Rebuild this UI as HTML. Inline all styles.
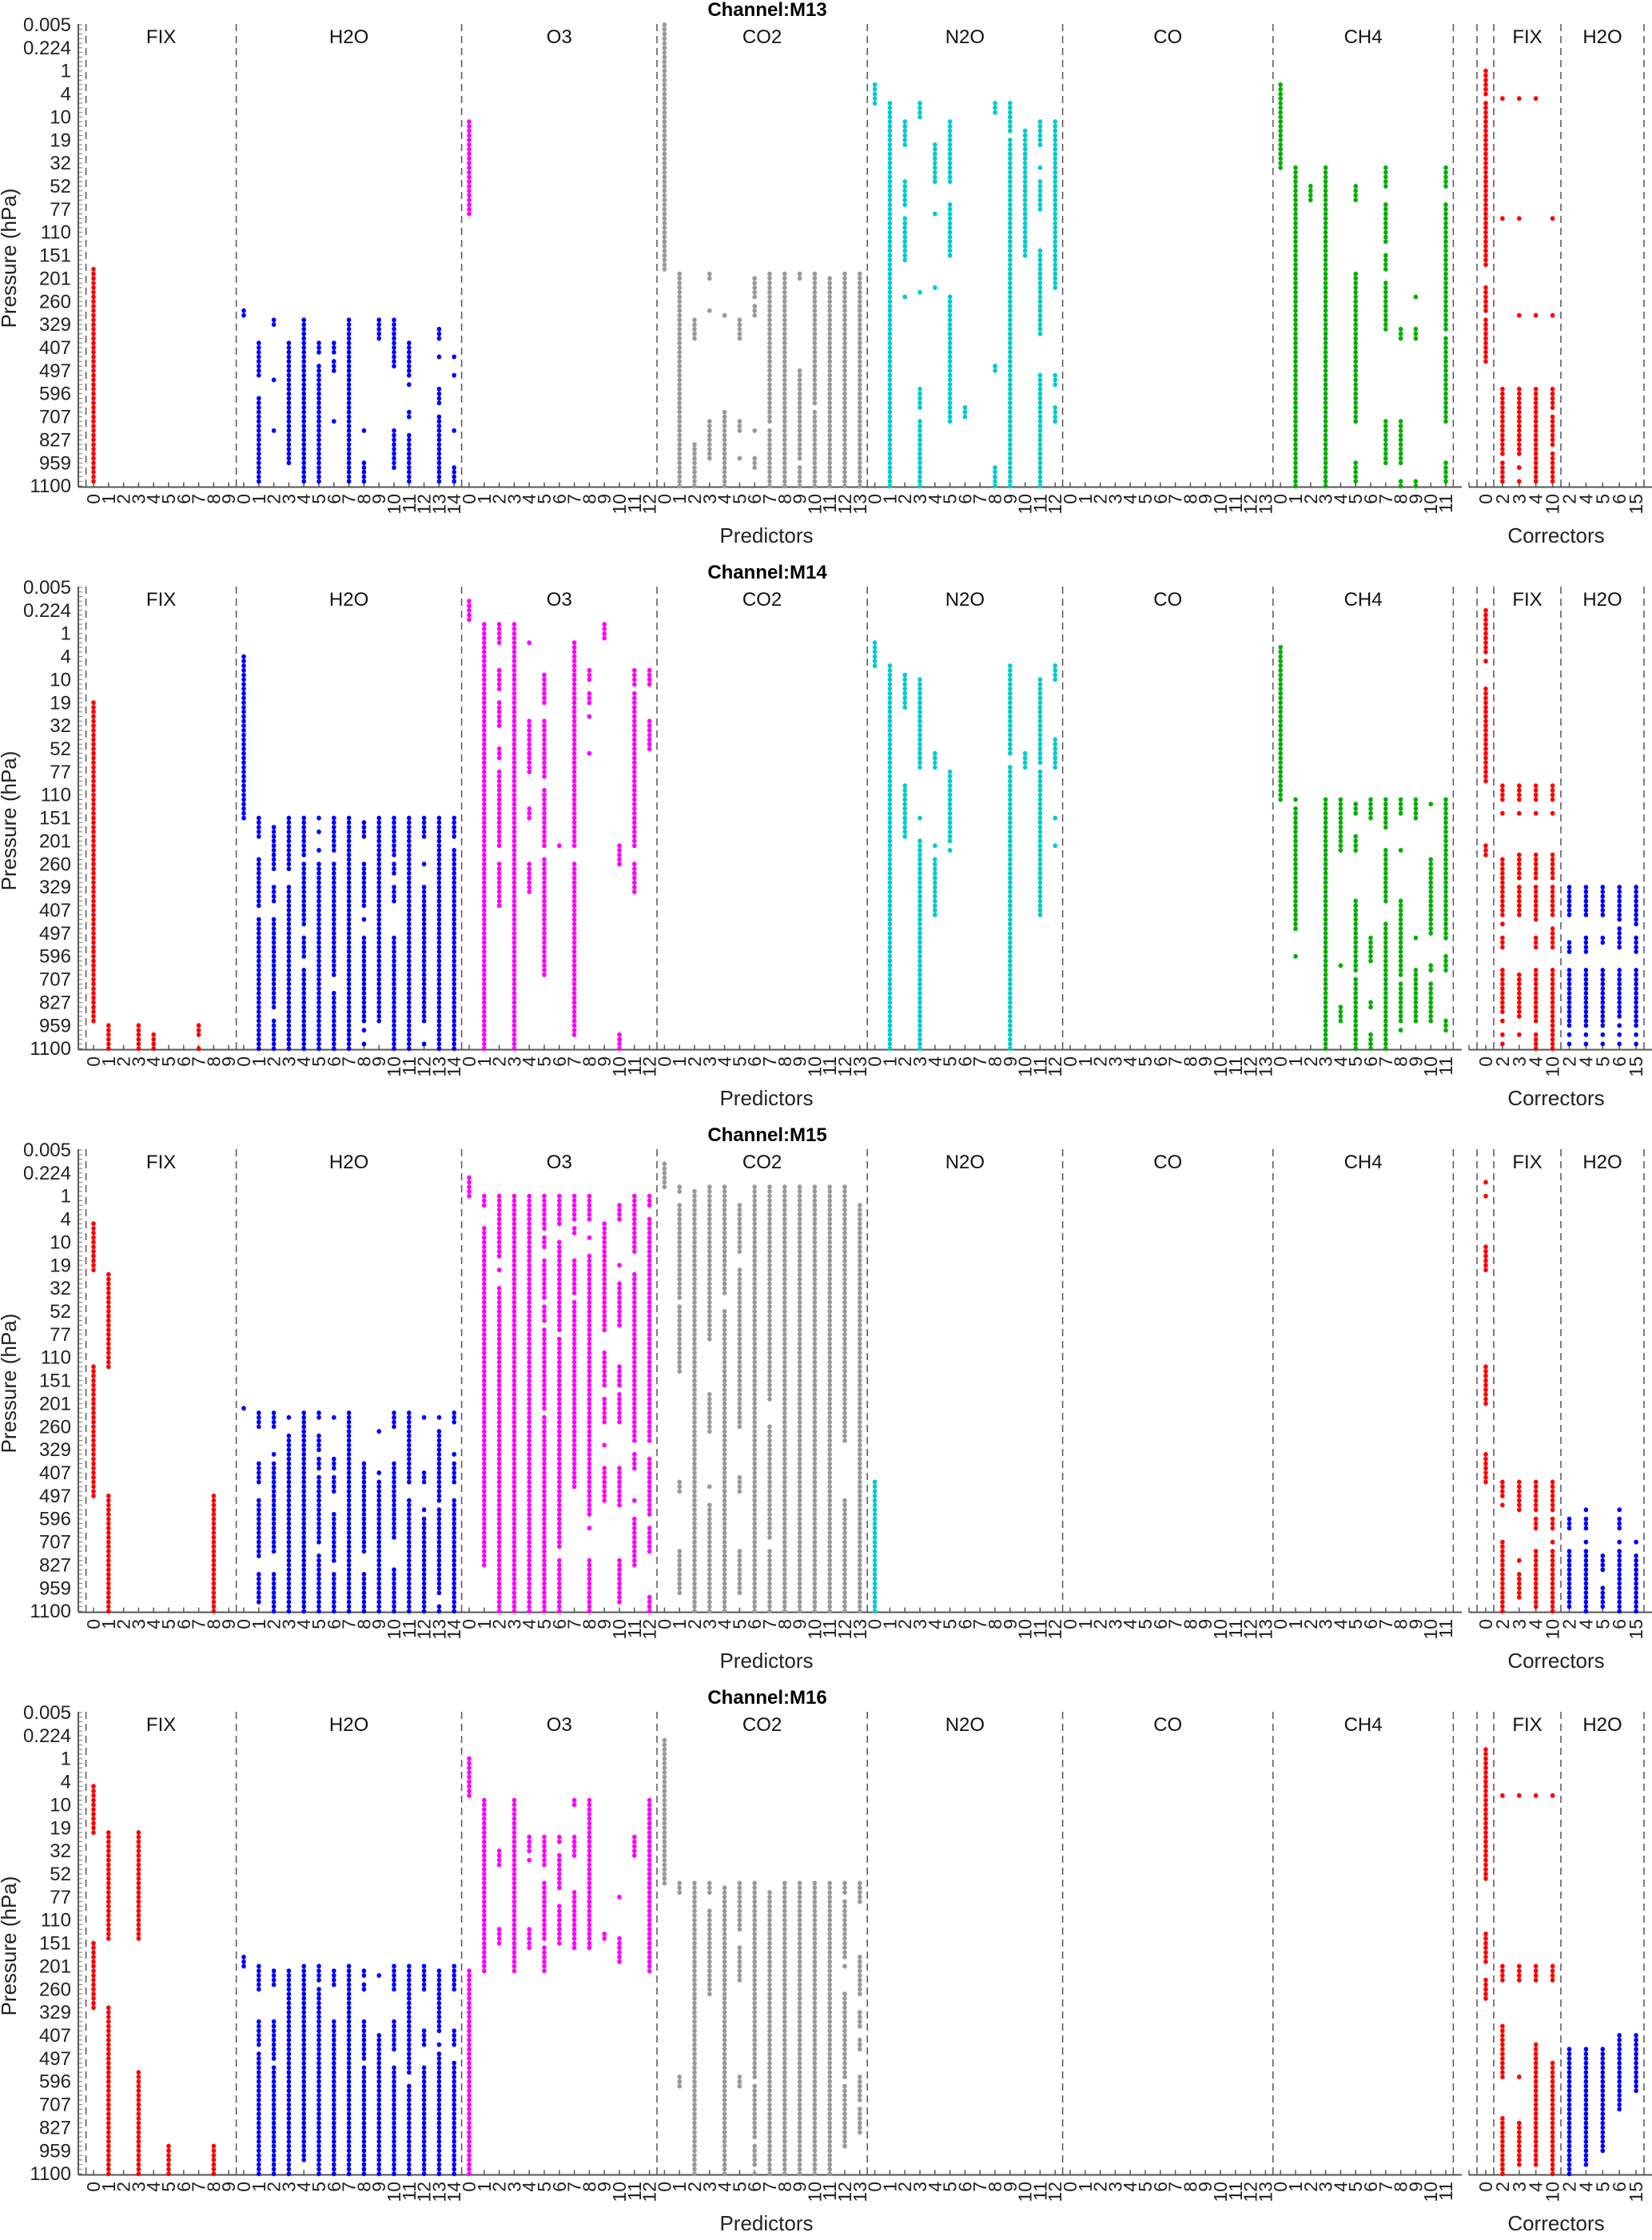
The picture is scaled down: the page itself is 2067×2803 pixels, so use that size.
<!DOCTYPE html>
<html><head><meta charset="utf-8"><title>Predictor selection by channel</title>
<style>
html,body{margin:0;padding:0;background:#fff;}
svg{display:block;font-family:"Liberation Sans",sans-serif;}
</style></head>
<body>
<svg id="chart" width="2067" height="2803" viewBox="0 0 2067 2803" xmlns="http://www.w3.org/2000/svg"></svg>
<script>
// ---------- data ----------
const channelNames = ["M13","M14","M15","M16"];
const pressureLabels = ["0.005","0.224","1","4","10","19","32","52","77","110","151","201","260","329","407","497","596","707","827","959","1100"];
const groupNames = ["FIX","H2O","O3","CO2","N2O","CO","CH4"];
const groupSizes = [10,15,13,14,13,14,12];
const groupColors = ["#ff0000","#0000ff","#ff00ff","#999999","#00cccc","#aaaaaa","#00b000"];
const corrGroupNames = ["FIX","H2O"];
const corrLabels = ["0","2","3","4","10","2","4","5","6","15"];
// segments: [column, startPos, endPos] in axis units (0 = top 0.005 hPa, 17 = bottom 1100 hPa)
const m13Pred = [[0,9.0,16.9],[10,10.5,10.7],[11,11.7,12.7],[11,12.9,12.9],[11,13.7,14.2],[11,14.4,16.9],[12,10.8,11.0],[12,13.1,13.1],[12,15.0,15.0],[13,11.7,14.9],[13,15.2,16.1],[14,10.8,16.9],[15,11.7,12.1],[15,12.5,14.9],[15,15.2,16.9],[16,11.7,12.1],[16,12.4,12.7],[16,14.6,14.6],[17,10.8,16.9],[18,15.0,15.0],[18,16.1,16.9],[19,10.8,11.6],[20,10.8,12.5],[20,15.0,16.3],[21,11.7,12.9],[21,13.3,13.3],[21,14.2,14.5],[21,15.2,16.9],[23,11.2,11.6],[23,12.3,12.3],[23,13.5,14.0],[23,14.4,16.1],[23,16.4,16.9],[24,12.3,12.3],[24,12.9,12.9],[24,15.0,15.0],[24,16.3,16.9],[25,3.5,6.9],
[38,0,9.0],[39,9.1,16.0],[39,16.2,17],[40,10.8,11.5],[40,15.4,17],[41,9.1,9.4],[41,10.5,10.5],[41,14.7,15.9],[42,10.7,10.7],[42,14.2,17],[43,10.8,11.5],[43,14.7,14.9],[43,16.0,16.0],[44,9.4,10.1],[44,10.4,10.7],[44,14.9,14.9],[44,15.9,16.4],[45,9.1,14.7],[45,15.0,17],[46,9.1,17],[47,9.1,9.4],[47,12.7,15.4],[47,15.7,15.9],[47,16.4,17],[48,9.1,13.9],[48,14.2,17],[49,9.4,17],[50,9.1,17],[51,9.1,17],
[52,2.15,2.85],[53,2.9,17],[54,3.5,4.4],[54,5.85,6.55],[54,7.1,8.7],[54,10.0,10.0],[55,2.9,3.45],[55,9.8,9.8],[55,13.35,14.1],[55,14.7,17],[56,4.5,5.2],[56,5.45,5.8],[56,7.0,7.0],[56,9.65,9.65],[57,3.5,5.2],[57,5.45,5.8],[57,6.7,8.5],[57,9.95,14.7],[58,14.1,14.5],[60,2.9,3.3],[60,12.5,12.8],[60,16.4,17],[61,2.9,3.85],[61,4.3,17],[62,3.9,4.3],[62,4.5,8.5],[63,3.5,4.4],[63,5.3,5.3],[63,5.8,6.85],[63,8.4,11.4],[63,12.9,17],[64,3.5,9.7],[64,12.9,13.3],[64,14.1,14.6],
[79,2.15,5.2],[80,5.3,17],[81,6.0,6.5],[82,5.3,17],[84,6.0,6.5],[84,9.1,14.7],[84,16.2,16.8],[86,5.3,5.95],[86,6.55,7.95],[86,8.55,9.0],[86,9.6,9.9],[86,10.1,11.2],[86,14.7,16.1],[87,11.25,11.5],[87,14.7,16.1],[87,16.8,17],[88,10.0,10.0],[88,11.25,11.5],[88,16.8,17],[90,5.3,5.95],[90,6.55,11.25],[90,11.6,14.7],[90,16.1,16.8]];
const m13Corr = [[0,1.7,2.6],[0,2.9,7.0],[0,7.2,8.9],[0,9.65,10.6],[0,10.8,12.4],[1,2.75,2.75],[1,7.1,7.1],[1,13.4,15.8],[1,16.1,16.9],[2,2.75,2.75],[2,7.1,7.1],[2,10.7,10.7],[2,13.4,15.8],[2,16.3,16.3],[2,16.85,16.85],[3,2.75,2.75],[3,10.7,10.7],[3,13.4,16.9],[4,7.1,7.1],[4,10.7,10.7],[4,13.4,14.05],[4,14.4,15.4],[4,15.8,16.9]];
const m14Pred = [[0,4.3,16.05],[1,16.1,17],[3,16.1,17],[4,16.5,16.95],[7,16.1,16.5],[7,17,17],
[10,2.5,8.45],[11,8.53,9.14],[11,9.96,9.96],[11,10.26,11.66],[11,12.19,17],[12,8.85,10.32],[12,11.02,11.55],[12,12.19,15.47],[12,16.06,16.82],[12,17,17],[13,8.53,10.32],[13,11.02,11.49],[13,11.72,16.24],[13,16.53,17],[14,8.53,9.85],[14,10.26,12.49],[14,12.9,13.66],[14,14.07,17],[15,8.53,8.53],[15,9.09,9.09],[15,9.61,9.61],[15,10.26,17],[16,8.53,9.67],[16,10.26,14.3],[16,14.95,17],[17,8.53,17],[18,8.68,9.14],[18,10.26,11.66],[18,12.25,12.25],[18,12.84,16.06],[18,16.3,16.3],[18,16.82,16.82],[19,8.53,16.06],[20,8.53,9.85],[20,10.26,10.49],[20,11.02,11.49],[20,12.84,17],[21,8.53,17],[22,8.53,9.14],[22,10.26,10.26],[22,11.02,16.06],[22,16.82,16.82],[23,8.53,9.61],[23,9.85,16.24],[23,16.53,16.95],[24,8.53,9.14],[24,9.61,12.84],[24,12.95,17],
[25,0.47,1.23],[26,1.29,17],[27,1.29,2.05],[27,3.11,3.81],[27,4.28,5.16],[27,5.98,6.27],[27,6.74,9.5],[27,10.26,11.66],[28,1.29,17],[29,1.97,1.97],[29,4.87,6.8],[29,8.15,8.44],[29,10.26,11.2],[30,3.28,4.22],[30,4.87,7.03],[30,7.44,9.55],[30,10.08,14.36],[31,9.44,9.44],[32,2.11,9.55],[32,10.26,16.47],[33,3.11,3.4],[33,3.87,4.22],[33,4.69,4.69],[33,6.04,6.04],[34,1.29,1.82],[35,9.55,10.2],[35,16.53,17],[36,3.11,3.58],[36,3.87,9.5],[36,10.26,11.2],[37,3.11,3.58],[37,4.87,5.98],
[52,2.11,2.81],[53,2.93,17],[54,3.28,4.4],[54,7.27,8.44],[54,8.68,9.14],[55,3.46,6.68],[55,8.56,8.56],[55,9.38,17],[56,6.15,6.62],[56,9.44,9.44],[56,10.08,12.02],[57,6.74,8.44],[57,8.68,9.32],[57,9.61,9.61],[61,2.93,6.1],[61,6.57,17],[62,6.15,6.62],[63,3.46,6.45],[63,6.74,12.02],[64,2.93,3.4],[64,5.63,6.62],[64,8.56,8.56],[64,9.44,9.44],
[79,2.29,7.74],[80,7.85,7.85],[80,8.21,12.6],[80,13.66,13.66],[82,7.85,17],[83,7.85,9.67],[83,13.95,13.95],[83,15.53,15.94],[84,8.03,8.32],[84,9.26,9.67],[84,11.55,14.19],[84,14.42,14.42],[84,14.65,17],[85,7.85,8.5],[85,12.84,13.6],[85,13.83,13.83],[85,15.24,15.47],[85,16.41,17],[86,7.85,8.79],[86,9.73,11.55],[86,12.37,17],[87,7.85,8.09],[87,8.38,8.38],[87,9.61,9.61],[87,11.55,12.13],[87,12.31,13.72],[87,13.89,14.36],[87,14.54,15.24],[87,15.53,16.06],[87,16.3,16.3],[88,7.85,8.44],[88,12.84,12.84],[88,14.13,16.06],[89,8.03,8.03],[89,10.08,12.78],[89,13.89,14.19],[89,14.65,16.06],[90,7.85,12.95],[90,13.6,14.19],[90,15.94,16.35]];
const m14Corr = [[0,0.88,2.46],[0,2.75,2.75],[0,3.69,7.21],[0,9.55,9.85],
[1,7.27,7.74],[1,8.38,8.38],[1,10.02,12.02],[1,12.43,12.43],[1,12.84,13.25],[1,14.19,14.95],[1,15.18,15.53],[1,15.71,15.71],[1,16.06,16.06],[1,16.41,16.41],[1,16.82,16.82],
[2,7.27,7.74],[2,8.38,8.38],[2,9.91,10.67],[2,11.08,12.02],[2,14.3,15.24],[2,15.53,15.83],[2,16.41,16.41],
[3,7.27,7.74],[3,8.38,8.38],[3,9.91,10.73],[3,11.08,12.02],[3,12.19,12.31],[3,12.84,13.25],[3,14.19,15.24],[3,15.53,15.94],[3,16.41,17],
[4,7.27,7.74],[4,8.38,8.38],[4,9.91,10.67],[4,11.08,12.13],[4,12.54,13.25],[4,14.19,17],
[5,11.08,12.02],[5,13.01,13.42],[5,14.19,15.24],[5,15.53,16.18],[5,16.41,16.41],[5,16.82,16.82],
[6,11.08,12.13],[6,12.84,13.42],[6,14.19,15.24],[6,15.53,16.18],[6,16.41,16.41],[6,16.82,16.82],
[7,11.08,12.02],[7,12.84,13.07],[7,14.19,15.24],[7,15.53,16.18],[7,16.41,16.41],[7,16.82,16.82],
[8,11.08,12.31],[8,12.54,13.25],[8,14.19,15.24],[8,15.53,15.83],[8,16.12,16.12],[8,16.41,16.41],[8,16.82,16.82],
[9,11.08,12.49],[9,12.84,13.36],[9,14.19,15.24],[9,15.53,16.18],[9,16.41,16.41],[9,16.82,16.82]];
const m15Pred = [[0,2.75,4.45],[0,8.03,12.72],[1,4.51,7.97],[1,12.72,17],[8,12.72,17],
[10,9.5,9.5],[11,9.61,10.26],[11,11.61,12.25],[11,12.9,14.95],[11,15.59,16.65],[12,9.61,10.26],[12,11.2,11.2],[12,11.61,14.54],[12,14.77,14.77],[12,15.59,17],[13,9.79,9.79],[13,10.49,11.55],[13,11.78,17],[14,9.61,17],[15,9.61,9.91],[15,10.49,11.02],[15,11.31,11.66],[15,12.08,14.42],[15,15.0,17],[16,9.85,9.85],[16,11.43,11.72],[16,12.08,12.66],[16,13.36,13.6],[16,13.77,15.12],[16,15.59,17],[17,9.61,17],[18,11.61,14.71],[18,15.59,17],[19,10.32,10.32],[19,11.96,11.96],[19,12.31,17],[20,9.61,10.14],[20,11.61,14.24],[20,15.42,17],[21,9.61,10.02],[21,10.26,12.31],[21,12.9,17],[22,9.85,9.85],[22,11.96,12.31],[22,13.19,13.31],[22,13.66,17],[23,9.85,9.85],[23,10.32,12.9],[23,13.25,16.35],[23,16.77,17],[24,9.61,9.96],[24,11.2,11.2],[24,11.61,12.25],[24,12.9,17],
[25,0.94,1.7],[26,1.76,2.11],[26,2.93,15.24],[27,1.76,3.87],[27,4.34,4.34],[27,5.04,17],[28,1.76,17],[29,1.76,3.87],[29,4.1,17],[30,1.76,2.93],[30,3.17,3.63],[30,4.1,5.39],[30,5.74,6.33],[30,6.57,8.79],[30,9.09,9.5],[30,9.91,17],[31,1.76,2.7],[31,3.34,3.87],[31,4.1,6.68],[31,7.03,14.6],[31,15.12,17],[32,1.76,2.58],[32,2.93,3.11],[32,4.1,5.28],[32,5.69,9.5],[32,9.73,12.43],[33,1.76,2.52],[33,3.17,3.17],[33,3.93,13.48],[33,14.01,14.01],[33,15.12,17],[34,2.75,6.57],[34,7.5,8.68],[34,9.26,10.08],[34,10.84,10.84],[34,11.78,12.84],[35,2.11,2.52],[35,4.17,4.17],[35,4.87,6.51],[35,8.03,8.68],[35,9.09,10.08],[35,11.78,13.01],[35,15.18,16.71],[36,1.76,3.75],[36,4.57,10.79],[36,11.14,11.78],[36,12.84,12.84],[36,13.54,15.3],[37,1.76,2.11],[37,2.52,10.67],[37,11.43,13.48],[37,13.95,14.71],[37,16.53,17],
[38,0.53,1.29],[39,1.35,1.52],[39,2.11,5.45],[39,5.86,8.21],[39,12.25,12.6],[39,14.71,16.3],[40,1.52,17],[41,1.35,6.92],[41,9.09,10.32],[41,12.43,12.43],[41,13.01,17],[42,1.35,5.28],[42,5.98,17],[43,2.11,3.75],[43,4.34,10.2],[43,12.08,12.6],[43,14.71,16.3],[44,1.35,17],[45,1.35,9.26],[45,10.26,14.3],[45,14.71,17],[46,1.35,17],[47,1.35,17],[48,1.35,17],[49,1.35,17],[50,1.35,10.79],[50,12.9,17],[51,2.11,17],[52,12.25,17]];
const m15Corr = [[0,1.17,1.17],[0,1.62,1.62],[0,3.58,4.45],[0,8.03,9.38],[0,11.25,12.25],
[1,12.25,12.72],[1,13.13,13.13],[1,14.42,15.3],[1,15.47,16.0],[1,16.18,17],
[2,12.25,13.19],[2,15.06,15.06],[2,15.59,15.94],[2,16.18,16.53],
[3,12.25,13.19],[3,13.66,13.95],[3,14.83,15.83],[3,16.0,16.71],[3,16.88,16.88],
[4,12.25,13.19],[4,13.66,13.95],[4,14.42,14.42],[4,14.83,17],
[5,13.66,13.95],[5,14.83,16.71],[5,16.88,16.88],
[6,13.25,13.25],[6,13.66,13.95],[6,14.48,14.48],[6,14.83,15.3],[6,15.47,17],
[7,15.0,15.42],[7,16.12,16.71],[7,16.88,16.88],
[8,13.25,13.25],[8,13.66,13.95],[8,14.48,14.48],[8,14.83,17],
[9,14.48,14.48],[9,15.0,17]];
const m16Pred = [[0,2.64,4.34],[0,8.44,10.84],[1,4.4,8.38],[1,10.9,17],[3,4.4,8.38],[3,13.25,17],[5,15.94,17],[8,15.94,17],
[10,8.97,9.32],[11,9.32,10.14],[11,11.31,12.31],[11,12.6,17],[12,9.5,9.96],[12,11.31,12.08],[12,12.31,12.78],[12,13.07,17],[13,9.5,9.61],[13,9.85,12.95],[13,13.07,17],[14,9.32,16.3],[14,16.53,16.53],[15,9.32,9.79],[15,10.14,16.24],[15,16.35,17],[16,9.5,9.96],[16,11.31,16.24],[16,16.35,17],[17,9.32,17],[18,9.5,9.67],[18,9.96,10.14],[18,11.31,12.78],[18,13.07,17],[19,9.61,9.61],[19,11.84,17],[20,9.32,10.14],[20,11.31,12.49],[20,13.07,14.6],[20,14.77,16.06],[20,16.18,17],[21,9.32,13.25],[21,13.72,17],[22,9.32,10.14],[22,11.66,12.31],[22,13.07,17],[23,9.5,9.96],[23,10.2,11.78],[23,12.31,12.31],[23,12.6,17],[24,9.32,10.14],[24,11.66,12.31],[24,12.95,17],
[25,1.64,3.11],[25,9.5,17],[26,3.22,9.44],[27,5.16,5.69],[27,7.97,8.56],[28,3.22,9.44],[29,4.57,5.16],[29,5.45,5.45],[29,7.91,8.62],[30,4.57,5.69],[30,6.27,8.27],[30,8.62,9.44],[31,4.57,4.75],[31,5.33,6.39],[31,7.21,8.56],[32,3.22,3.34],[32,4.57,5.28],[32,6.62,6.62],[32,6.86,8.73],[33,3.22,8.62],[34,8.15,8.27],[35,6.8,6.8],[35,8.32,9.26],[36,4.57,5.28],[37,3.22,9.44],
[38,1.0,6.21],[39,6.27,6.62],[39,13.42,13.83],[40,6.27,17],[41,6.27,6.62],[41,7.39,10.32],[42,6.45,17],[43,6.27,7.91],[43,8.62,9.79],[43,13.42,13.83],[44,6.27,13.42],[44,13.83,15.59],[44,16.06,16.65],[44,17,17],[45,6.62,17],[46,6.27,17],[47,6.27,17],[48,6.27,17],[49,6.27,17],[50,6.27,6.62],[50,7.03,8.97],[50,9.32,9.32],[50,10.32,13.42],[50,13.72,16.06],[51,6.27,7.03],[51,8.97,10.32],[51,11.02,11.49],[51,12.13,12.43],[51,13.42,14.3],[51,14.6,15.47]];
const m16Corr = [[0,1.3,6.1],[0,8.2,9.2],[0,9.8,10.6],[1,3.1,3.1],[1,9.3,9.8],[1,11.6,13.5],[1,15.0,17],[2,3.1,3.1],[2,9.3,9.8],[2,13.5,13.5],[2,15.2,16.6],[3,3.1,3.1],[3,9.3,9.8],[3,12.2,16.6],[4,3.1,3.1],[4,9.3,9.8],[4,13.0,17],[5,12.4,17],[6,12.4,16.6],[7,12.4,16.1],[8,11.9,14.6],[9,11.9,14.0]];
const predSets = [m13Pred,m14Pred,m15Pred,m16Pred];
const corrSets = [m13Corr,m14Corr,m15Corr,m16Corr];

// ---------- layout ----------
const NS = "http://www.w3.org/2000/svg";
const svg = document.getElementById("chart");
const PANEL_H = 704, TOP = 31, STEP = 33.95, BOTTOM = 609.5;
const X0 = 117, DX = 18.8, CX0 = 1859, CDX = 20.9;
const NLEV = 100, NLAB = 17;
function yScale(v, o){ return o + TOP + v*STEP; }
function xPred(c){ return X0 + c*DX; }
function xCorr(c){ return CX0 + c*CDX; }
function el(tag, attrs, parent){
  const e = document.createElementNS(NS, tag);
  for (const k in attrs) e.setAttribute(k, attrs[k]);
  (parent||svg).appendChild(e);
  return e;
}
function txt(s, attrs, parent){ const t = el("text", attrs, parent); t.textContent = s; return t; }
function groupColor(c){
  let s = 0;
  for (let g=0; g<groupSizes.length; g++){ if (c < s+groupSizes[g]) return groupColors[g]; s += groupSizes[g]; }
  return "#000";
}
function drawSegs(segs, o, xf, colorf, parent){
  segs.forEach(seg => {
    const l0 = Math.round(seg[1]*NLEV/NLAB), l1 = Math.round(seg[2]*NLEV/NLAB);
    for (let l=l0; l<=Math.max(l0,l1); l++){
      const d = el("ellipse", {cx:xf(seg[0]).toFixed(1), cy:yScale(l*NLAB/NLEV,o).toFixed(1), rx:2.8, ry:3, fill:colorf(seg[0])}, parent);
      
      
    }
  });
}

for (let p=0; p<4; p++){
  const o = p*PANEL_H;
  const g = el("g", {});
  
  
  const t = txt("Channel:"+channelNames[p], {x:960, y:o+20, "text-anchor":"middle", "font-size":24, "font-weight":"bold"}, g);
  
  
  // y axis
  const ya = el("line", {x1:98, y1:o+30, x2:98, y2:o+BOTTOM, stroke:"#555", "stroke-width":2}, g);
  
  
  for (let l=0; l<=NLEV; l++){
    el("line", {x1:98, y1:yScale(l*NLAB/NLEV,o), x2:103, y2:yScale(l*NLAB/NLEV,o), stroke:"#777", "stroke-width":1}, g);
  }
  const nL = pressureLabels.length - 1;
  pressureLabels.forEach((lab,i) => {
    const tl = txt(lab, {x:89, y:yScale(i*NLAB/nL,o)+8, "text-anchor":"end", "font-size":24, fill:"#222"}, g);
    
    
  });
  const yt = txt("Pressure (hPa)", {x:0, y:0, transform:`translate(20,${o+323}) rotate(-90)`, "text-anchor":"middle", "font-size":26, fill:"#222"}, g);
  
  
  // x axes
  const xa = el("line", {x1:98, y1:o+BOTTOM, x2:1829, y2:o+BOTTOM, stroke:"#555", "stroke-width":2}, g);
  
  
  const xa2 = el("line", {x1:1838, y1:o+BOTTOM, x2:2067, y2:o+BOTTOM, stroke:"#555", "stroke-width":2}, g);
  
  
  let start = 0;
  const dash = {stroke:"#555", "stroke-width":1.5, "stroke-dasharray":"9,6"};
  el("line", Object.assign({x1:xPred(-0.5), y1:o+30, x2:xPred(-0.5), y2:o+BOTTOM}, dash), g);
  groupNames.forEach((gn, gi) => {
    const end = start + groupSizes[gi];
    const sep = el("line", Object.assign({x1:xPred(end-0.5), y1:o+30, x2:xPred(end-0.5), y2:o+BOTTOM}, dash), g);
    
    
    const gl = txt(gn, {x:(xPred(start-0.5)+xPred(end-0.5))/2, y:o+54, "text-anchor":"middle", "font-size":24, fill:"#111"}, g);
    
    
    for (let k=0; k<groupSizes[gi]; k++){
      const x = xPred(start+k);
      el("line", {x1:x, y1:o+BOTTOM, x2:x, y2:o+BOTTOM-6, stroke:"#555", "stroke-width":1.5}, g);
      const xl = txt(String(k), {x:0, y:0, transform:`translate(${x+8},${o+618}) rotate(-90)`, "text-anchor":"end", "font-size":23, fill:"#222"}, g);
      
      
    }
    start = end;
  });
  [1848, 1869, 1953, 2057].forEach(x => {
    const s = el("line", Object.assign({x1:x, y1:o+30, x2:x, y2:o+BOTTOM}, dash), g);
    
    
  });
  const cf = txt(corrGroupNames[0], {x:1911, y:o+54, "text-anchor":"middle", "font-size":24, fill:"#111"}, g);
  
  
  const ch = txt(corrGroupNames[1], {x:2005, y:o+54, "text-anchor":"middle", "font-size":24, fill:"#111"}, g);
  
  
  el("line", {x1:1838, y1:o+BOTTOM, x2:1838, y2:o+BOTTOM-6, stroke:"#555", "stroke-width":1.5}, g);
  corrLabels.forEach((lab, k) => {
    const x = xCorr(k);
    el("line", {x1:x, y1:o+BOTTOM, x2:x, y2:o+BOTTOM-6, stroke:"#555", "stroke-width":1.5}, g);
    const xl = txt(lab, {x:0, y:0, transform:`translate(${x+8},${o+618}) rotate(-90)`, "text-anchor":"end", "font-size":23, fill:"#222"}, g);
    
    
  });
  const pt = txt("Predictors", {x:959, y:o+679, "text-anchor":"middle", "font-size":26, fill:"#222"}, g);
  
  
  const ct = txt("Correctors", {x:1947, y:o+679, "text-anchor":"middle", "font-size":26, fill:"#222"}, g);
  
  
  drawSegs(predSets[p], o, xPred, groupColor, g);
  drawSegs(corrSets[p], o, xCorr, c => c < 5 ? "#ff0000" : "#0000ff", g);
}
</script>
</body></html>
